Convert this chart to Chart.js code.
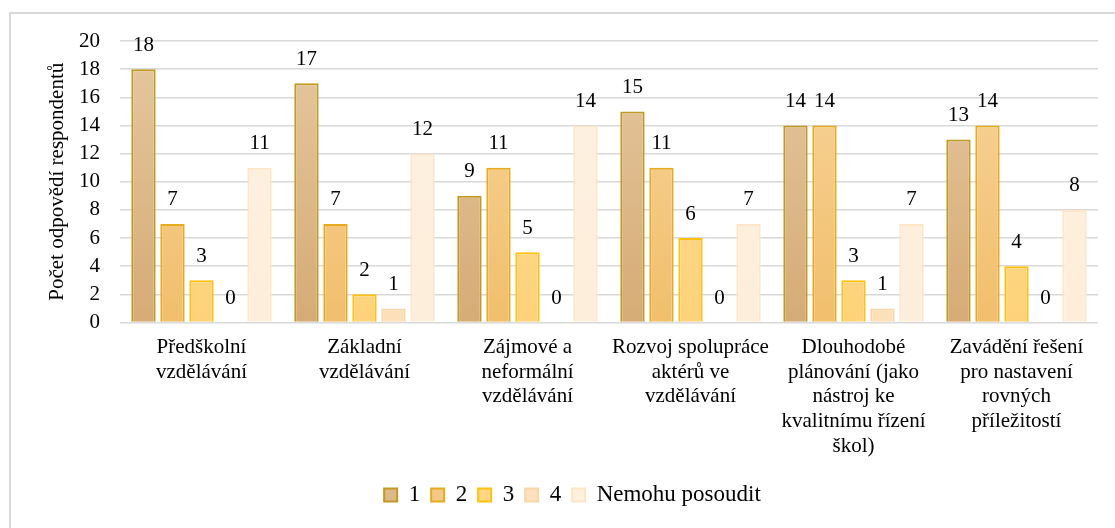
<!DOCTYPE html>
<html>
<head>
<meta charset="utf-8">
<script src="https://cdn.jsdelivr.net/npm/chart.js@4.4.1/dist/chart.umd.min.js"></script>
<style>
  html, body { margin: 0; padding: 0; background: #fff; overflow: hidden; }
  #frame {
    position: absolute; left: 9px; top: 12px; width: 1200px; height: 600px;
    border-top: 2px solid #d9d9d9; border-left: 2px solid #d9d9d9;
  }
  #wrap { position: absolute; left: 0; top: 0; width: 1115px; height: 528px; }
</style>
</head>
<body>
<div id="frame"></div>
<div id="wrap"><canvas id="chart" width="1115" height="528"></canvas></div>
<script>
// Categories (multi-line labels as in the original)
const categories = [
  ["Předškolní", "vzdělávání"],
  ["Základní", "vzdělávání"],
  ["Zájmové a", "neformální", "vzdělávání"],
  ["Rozvoj spolupráce", "aktérů ve", "vzdělávání"],
  ["Dlouhodobé", "plánování (jako", "nástroj ke", "kvalitnímu řízení", "škol)"],
  ["Zavádění řešení", "pro nastavení", "rovných", "příležitostí"]
];
const seriesNames = ["1", "2", "3", "4", "Nemohu posoudit"];
const rating1 = [18, 17, 9, 15, 14, 13];
const rating2 = [7, 7, 11, 11, 14, 14];
const rating3 = [3, 2, 5, 6, 3, 4];
const rating4 = [0, 1, 0, 0, 1, 0];
const cannotJudge = [11, 12, 14, 7, 7, 8];
const yTicks = [0, 2, 4, 6, 8, 10, 12, 14, 16, 18, 20];

// Styles
const FONT = "Liberation Serif";
Chart.defaults.font.family = FONT;
Chart.defaults.font.size = 21;
Chart.defaults.color = "#000";

const fillsTop = ["#e5c8a0", "#f8d49c", "#fedd94", "#fde4c2", "#fef1e0"];
const fillsBottom = ["#d6ab75", "#f1bf6c", "#fdd27a", "#fde0b8", "#fdeedb"];
const borders = ["#c29a22", "#e6ab1e", "#fec10e", "#f9d6a6", "#fde5c6"];
const legendFills = ["#dcb988", "#f4c986", "#fdd786", "#fde2bd", "#fef0dd"];

function gradientFor(i) {
  return (context) => {
    const area = context.chart.chartArea;
    if (!area) return legendFills[i];
    const g = context.chart.ctx.createLinearGradient(0, area.top, 0, area.bottom);
    g.addColorStop(0, fillsTop[i]);
    g.addColorStop(1, fillsBottom[i]);
    return g;
  };
}

const seriesData = [rating1, rating2, rating3, rating4, cannotJudge];

// Value labels drawn above every bar
const valueLabels = {
  id: "valueLabels",
  afterDatasetsDraw(chart) {
    const ctx = chart.ctx;
    ctx.save();
    ctx.font = "21px " + FONT;
    ctx.fillStyle = "#000";
    ctx.textAlign = "center";
    ctx.textBaseline = "middle";
    chart.data.datasets.forEach((ds, i) => {
      chart.getDatasetMeta(i).data.forEach((bar, j) => {
        ctx.fillText(String(ds.data[j]), bar.x, bar.y - 24);
      });
    });
    ctx.restore();
  }
};

new Chart(document.getElementById("chart"), {
  type: "bar",
  data: {
    labels: categories,
    datasets: seriesData.map((values, i) => ({
      label: seriesNames[i],
      data: values,
      backgroundColor: gradientFor(i),
      borderColor: borders[i],
      borderWidth: 2,
      categoryPercentage: 0.89,
      barPercentage: 0.84
    }))
  },
  options: {
    responsive: false,
    animation: false,
    layout: { padding: { left: 47, right: 17, top: 41, bottom: 11.5 } },
    plugins: {
      tooltip: { enabled: false },
      legend: {
        position: "bottom",
        labels: {
          font: { family: FONT, size: 23 },
          color: "#000",
          boxWidth: 13,
          boxHeight: 13,
          padding: 11,
          generateLabels(chart) {
            return Chart.defaults.plugins.legend.labels.generateLabels(chart)
              .map((item, i) => ({ ...item, fillStyle: legendFills[i], lineWidth: 2 }));
          }
        }
      }
    },
    scales: {
      x: {
        grid: { display: false, drawTicks: false },
        border: { display: false },
        ticks: {
          color: "#000",
          font: { family: FONT, size: 21, lineHeight: 1.17 },
          padding: 13,
          maxRotation: 0,
          autoSkip: false
        },
        afterFit(scale) { scale.height = 150; }
      },
      y: {
        min: 0,
        max: 20,
        afterBuildTicks(scale) { scale.ticks = yTicks.map(v => ({ value: v })); },
        grid: { color: "#d9d9d9", lineWidth: 1.5, drawTicks: false },
        border: { display: false },
        ticks: {
          color: "#000",
          font: { family: FONT, size: 21 },
          padding: 20,
          autoSkip: false
        },
        title: {
          display: true,
          text: "Počet odpovědí respondentů",
          color: "#000",
          font: { family: FONT, size: 21, lineHeight: 1 },
          padding: { top: 0, bottom: 0 }
        },
        afterFit(scale) { scale.width = 73; }
      }
    }
  },
  plugins: [valueLabels]
});
</script>
</body>
</html>
